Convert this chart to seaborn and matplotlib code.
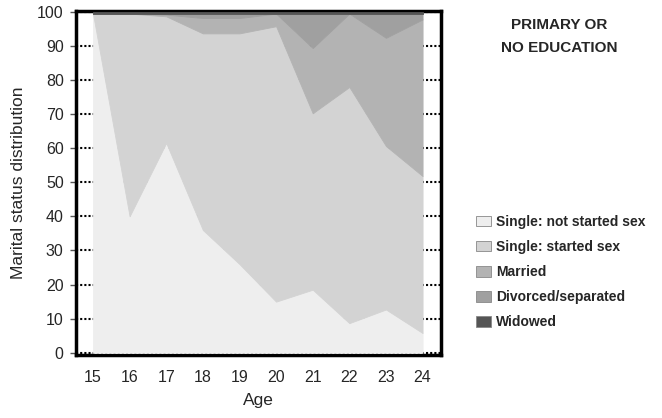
import matplotlib
matplotlib.use("Agg")
import matplotlib.pyplot as plt
from matplotlib.patches import Patch
import seaborn as sns
import pandas as pd

# Data (percent of each age group)
ages = [15, 16, 17, 18, 19, 20, 21, 22, 23, 24]
not_started = [99.4, 40.0, 61.5, 36.0, 26.0, 15.0, 18.5, 8.7, 12.7, 5.8]
started = [0.0, 59.4, 37.1, 57.6, 67.6, 80.7, 51.7, 69.2, 47.9, 46.0]
married = [0.0, 0.0, 0.5, 4.5, 4.5, 3.7, 19.1, 21.5, 31.7, 45.9]
divorced = [0.0, 0.0, 0.3, 1.3, 1.3, 0.0, 10.1, 0.0, 7.1, 1.7]
widowed = [0.6, 0.6, 0.6, 0.6, 0.6, 0.6, 0.6, 0.6, 0.6, 0.6]

labels = ["Single: not started sex", "Single: started sex", "Married",
          "Divorced/separated", "Widowed"]
colors = ["#eeeeee", "#d3d3d3", "#b3b3b3", "#a0a0a0", "#555555"]

df = pd.DataFrame({"age": ages, labels[0]: not_started, labels[1]: started,
                   labels[2]: married, labels[3]: divorced, labels[4]: widowed})

sns.set_theme(style="white")
plt.rcParams["font.family"] = ["Liberation Sans", "DejaVu Sans"]

fig = plt.figure(figsize=(6.62, 4.18), dpi=100)
ax = fig.add_axes([0.115, 0.151, 0.551, 0.823])

polys = ax.stackplot(df["age"], [df[l] for l in labels], colors=colors,
                     linewidth=0.6, zorder=3)
for p, c in zip(polys, colors):
    p.set_edgecolor(c)

ax.set_xlim(14.54, 24.5)
ax.set_ylim(-0.6, 100.2)
ax.set_xticks(ages)
ax.set_yticks(range(0, 101, 10))
ax.yaxis.grid(True, linestyle=(0, (1, 1)), color="black", linewidth=1.5, zorder=1)
ax.set_axisbelow(True)

for s in ax.spines.values():
    s.set_linewidth(2.5)
    s.set_color("black")

ax.tick_params(axis="y", left=True, length=4, width=1, color="#555555",
               labelsize=11.5, pad=5)
ax.tick_params(axis="x", bottom=False, labelsize=11.5, pad=5)
ax.set_xlabel("Age", fontsize=12.5, labelpad=6)
ax.set_ylabel("Marital status distribution", fontsize=12.5, labelpad=8)

fig.text(0.845, 0.913, "PRIMARY OR\nNO EDUCATION", ha="center", va="center",
         fontsize=11, fontweight="bold", linespacing=1.8)

handles = [Patch(facecolor=c, edgecolor="#888888", linewidth=0.6) for c in colors]
fig.legend(handles, labels, loc="upper left", bbox_to_anchor=(0.70, 0.516),
           frameon=False, prop={"size": 10, "weight": "bold"},
           handlelength=1.1, handleheight=0.8, handletextpad=0.35,
           labelspacing=0.8)

plt.savefig("out.png", dpi=100)
plt.close()
